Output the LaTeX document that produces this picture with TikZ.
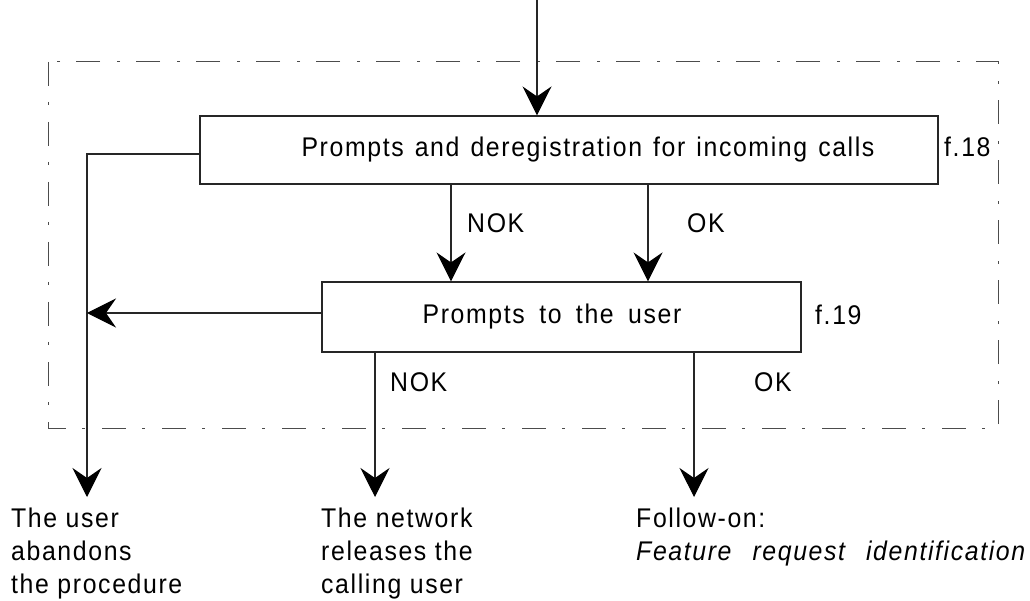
\documentclass[tikz,border=0pt]{standalone}
\usepackage{fontspec}
\setmainfont{Liberation Sans}[LetterSpace=6,FakeStretch=0.92]
\newfontfamily\wide{Liberation Sans}[LetterSpace=6,WordSpace=2.3,FakeStretch=0.92]
\newfontfamily\midw{Liberation Sans}[LetterSpace=6,WordSpace=1.3,FakeStretch=0.92]
\usetikzlibrary{arrows.meta}
\begin{document}
\begin{tikzpicture}[x=1pt,y=-1pt,
  every node/.style={font=\fontsize{27}{33}\selectfont},
  line/.style={line width=1.1pt, draw=black!85},
  arr/.style={line, -{Stealth[length=29pt,width=29pt,inset=10pt,color=black]}},
  procbox/.style={draw=black!85, line width=1.1pt, inner sep=0pt, minimum height=68pt},
  lbl/.style={anchor=base west, inner sep=0pt},
  outcome/.style={anchor=north west, inner sep=0pt, align=left},
  frame/.style={draw=black!70, line width=1pt, dash pattern=on 24pt off 16pt on 3pt off 17pt}]
\useasboundingbox (0,0) rectangle (1030,601);
% dash-dot frame
\draw[frame] (48,62) rectangle (998,428);
% boxes
\node[procbox, minimum width=738pt, font=\fontsize{27}{33}\midw] (box1) at (569,150)
  {\hspace*{38pt}Prompts and deregistration for incoming calls};
\node[procbox, minimum width=479pt, minimum height=70pt, font=\fontsize{27}{33}\wide] (box2) at (561.5,317)
  {Prompts to the user\hspace*{19pt}};
\node[lbl] (f18) at (944,157) {f.18};
\node[lbl] (f19) at (815,325) {f.19};
% entry
\coordinate (top) at (537,0);
\draw[arr] (top) -- (box1.north -| top);
% box1 outputs
\coordinate (nokx) at (451,0);
\coordinate (okx) at (648,0);
\draw[arr] (box1.south -| nokx) -- (box2.north -| nokx);
\draw[arr] (box1.south -| okx) -- (box2.north -| okx);
\node[lbl] (nok1) at (467,233) {NOK};
\node[lbl] (ok1) at (687,233) {OK};
% left path
\coordinate (lc) at (87,154);
\coordinate (lv) at (87,313);
\coordinate (lend) at (87,497);
\draw[arr] (box1.west |- lc) -- (lc) -- (lend);
\draw[arr] (box2.west |- lv) -- (lv);
% box2 outputs
\coordinate (nok2x) at (375,497);
\coordinate (ok2x) at (694,497);
\draw[arr] (box2.south -| nok2x) -- (nok2x);
\draw[arr] (box2.south -| ok2x) -- (ok2x);
\node[lbl] (nok2) at (390,391) {NOK};
\node[lbl] (ok2) at (754,391) {OK};
% outcomes
\node[outcome] (o1) at (11,508) {The user\\abandons\\the procedure};
\node[outcome] (o2) at (321,508) {The network\\releases the\\calling user};
\node[outcome] (o3) at (636,508) {Follow-on:\\{\itshape Feature\hspace{21pt}request\hspace{21pt}identification}};
\end{tikzpicture}
\end{document}
